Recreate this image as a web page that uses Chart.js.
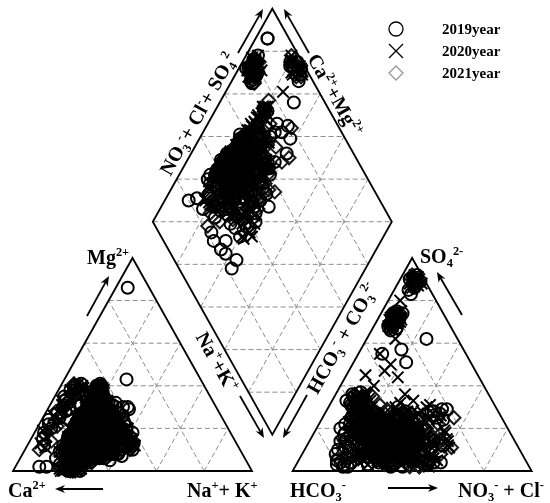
<!DOCTYPE html>
<html><head><meta charset="utf-8">
<script src="https://cdn.jsdelivr.net/npm/chart.js@4/dist/chart.umd.min.js"></script>
<style>html,body{margin:0;padding:0;background:#fff;}#wrap{width:550px;height:503px;}</style>
</head><body><div id="wrap"><canvas id="c" width="550" height="503"></canvas></div>
<script>
// ---- Data: each sample = [Mg%, Na+K%, SO4%, NO3+Cl%] (Ca = rest of cations, HCO3 = rest of anions)
const years = ['2019year', '2020year', '2021year'];
const samples2019 = [
[20,20,15,30],[22,18,18,28],[25,15,12,35],[18,25,20,25],[30,16,25,20],[15,30,10,40],[28,22,30,12],[12,35,8,45],[35,15,35,8],[38,15,22,18],
[40,15,33,10],[33,20,28,15],[26,26,16,22],[21,32,12,50],[17,38,5,55],[10,40,3,30],[6,35,6,20],[5,25,14,13],[8,18,20,10],[12,15,26,12],
[16,15,32,8],[22,16,36,7],[30,18,18,40],[24,20,28,45],[19,21,25,48],[14,22,14,52],[11,28,9,35],[9,33,17,38],[7,42,11,28],[13,44,4,18],
[20,36,8,25],[27,28,12,30],[32,24,22,26],[36,18,30,14],[39,17,27,22],[41,16,34,12],[34,17,19,32],[29,19,23,36],[23,18,16,42],[18,18,11,46],
[14,19,7,50],[10,20,3,55],[7,27,2,20],[4,30,5,16],[3,18,10,14],[6,15,15,18],[9,15,21,16],[15,16,27,20],[20,16,31,14],[26,16,35,12],
[31,16,13,28],[27,19,17,34],[23,23,21,30],[19,27,24,22],[16,31,18,24],[13,25,13,33],[17,21,9,37],[21,17,6,41],[24,17,10,24],[28,16,14,27],
[22,24,19,19],[18,19,23,17],[15,17,26,15],[12,19,16,26],[25,21,8,32],[29,17,11,36],[33,17,15,31],[37,17,20,29],[11,37,25,40],[8,40,28,44],
[5,38,29,48],[24,30,26,46],[20,29,24,51],[16,34,19,43],[13,29,12,57],[19,24,4,60],[23,20,2,45],[27,15,6,33],[31,13,9,26],[35,13,12,21],
[39,17,17,13],[36,19,31,9],[32,27,26,17],[26,33,21,23],[18,41,16,29],[14,40,13,37],[10,45,10,42],[7,33,7,25],[9,24,18,20],[11,16,22,13],
[21,15,29,11],[17,15,33,6],[25,16,37,10],[30,20,14,48],[22,19,20,39],
[21,23,17,29],[24,19,13,33],[27,21,21,26],[19,26,9,41],[16,22,24,18],[23,28,11,23],[29,23,16,21],[33,20,19,24],[26,18,23,28],[20,25,26,31],
[17,29,14,27],[14,27,19,30],[12,30,22,22],[18,33,17,19],[22,29,13,36],[25,24,10,40],[28,19,7,38],[31,22,12,33],[34,19,18,27],[30,24,24,23],
[24,27,28,20],[19,31,30,16],[15,34,26,14],[11,31,21,25],[9,27,17,31],[8,23,13,36],[10,21,8,42],[13,18,5,47],[17,20,3,39],[21,16,9,34],
[25,20,15,29],[22,22,20,24],[18,24,24,27],[15,25,18,33],[20,23,12,37],[24,23,8,41],[27,25,14,44],[23,27,19,40],[19,29,23,37],[16,27,27,33],
[13,23,30,29],[11,25,25,36],[9,29,20,41],[7,31,15,45],[6,27,10,50],[8,25,6,44],[11,22,4,38],[14,20,9,32],[17,17,14,26],[20,18,19,22],
[23,15,24,19],[26,16,28,16],[29,16,32,13],[32,16,27,18],[35,15,22,23],[37,14,17,26],[33,16,13,30],[30,16,9,35],[27,16,5,39],[24,16,11,30],
[21,16,16,25],[18,16,21,21],[16,17,25,24],[13,17,20,28],[11,17,15,32],[9,16,10,27],[12,18,7,22],[15,22,11,18],[19,21,15,15],[22,26,18,13],
[26,23,22,11],[29,25,26,14],[32,21,30,10],[28,27,20,17],[25,30,16,20],[21,27,12,24],[18,26,8,29],[14,29,4,34],[11,33,7,39],[9,36,11,35],
[12,39,15,31],[15,37,19,27],[19,34,23,25],[23,32,27,22],[26,30,24,27],[30,28,20,31],[27,31,17,36],[23,35,14,40],[19,38,10,44],[16,41,6,48],
[13,43,3,40],[17,39,5,33],[21,37,9,29],[8,35,13,26],[6,33,16,23],[5,29,19,20],[7,21,22,17],[10,17,25,14],[14,16,28,19],[18,16,24,33],
[22,17,18,38],[26,17,13,43],[30,17,8,46],[34,18,11,40],[36,17,15,35],[38,16,19,30],[40,17,23,24],[37,19,26,20],[34,21,29,16],[31,26,23,35],
[27,24,19,46],[24,26,15,50],[20,24,11,53],[17,25,15,47],[14,26,20,42],[12,28,24,38],[10,31,28,33],[8,28,23,29],[6,24,18,34],[9,19,13,39],
[1,22,88,7],[0,25,90,6],[2,20,87,8],[1,27,91,5],[0,23,92,6],[2,26,89,9],[1,21,90,4],[0,28,86,8],
[38,7,70,7],[33,5,72,8],[28,8,68,6],[40,6,74,5],[22,4,71,9],[36,9,69,8],[30,6,75,6],[25,7,67,10],
[41,8,72,6],[39,6,70,9],[37,9,73,5],[35,4,68,8],[32,7,71,7],[27,5,74,9],[24,3,69,6],[20,6,72,8],[18,4,67,10],[15,5,70,7],[12,7,73,6],[29,9,66,8],
[86,5,83,8],[38,5,85,6],[43,26,55,10],[30,31,62,25],[29,34,29,50],[30,33,27,48],[2,10,3,17],[2,13,2,22],
[12,44,4,22],[8,38,3,20],[20,35,8,14],[6,30,3,30],[5,28,2,40],[10,36,4,57],[24,22,57,17],[28,20,51,22]
];
const samples2020 = [
[21,19,14,31],[24,22,17,27],[19,17,12,34],[27,16,20,24],[16,24,9,38],[23,26,22,21],[30,18,27,16],[34,16,31,11],[38,16,35,9],[40,16,29,14],
[36,16,24,20],[32,22,19,29],[28,25,15,36],[25,29,11,42],[20,33,7,47],[17,36,4,52],[13,40,3,44],[10,43,6,36],[8,38,9,28],[6,32,13,22],
[4,27,18,15],[5,20,23,12],[9,15,28,10],[13,16,33,9],[18,17,36,13],[24,17,30,18],[29,17,26,23],[33,17,21,27],[37,17,16,31],[39,18,12,35],
[35,20,8,40],[31,24,5,45],[26,27,3,50],[22,31,2,56],[18,35,5,58],[14,37,8,54],[11,35,11,49],[9,30,14,44],[7,25,17,39],[5,17,20,33],
[8,17,25,28],[12,16,22,24],[16,15,19,20],[20,14,16,17],[23,16,13,14],[26,19,10,18],[30,21,7,22],[27,23,4,26],[23,24,9,29],[19,22,12,26],
[15,21,15,23],[12,23,18,19],[10,26,21,16],[13,29,24,21],[16,28,27,25],[20,27,23,32],[24,25,20,38],[18,30,16,42],[14,33,13,46],[11,38,10,31],
[15,42,7,27],[12,45,5,33],[20,38,3,38],[25,32,6,43],[29,27,9,48],[33,23,13,52],[28,18,17,47],[22,19,21,41],[17,19,25,37],[21,21,28,34],
[25,18,32,29],[31,16,34,15],[35,17,37,12],[33,19,28,40],[29,19,24,45],[26,19,31,42],[20,21,26,49],[16,20,18,55],[13,20,14,58],[9,22,11,60],
[7,35,6,40],[5,30,10,35],[4,24,3,30],[6,19,8,25],[23,18,19,30],
[22,20,15,28],[25,23,18,25],[20,18,11,33],[26,17,21,22],[17,25,10,36],[22,27,23,20],[29,19,26,17],[33,17,30,12],[37,16,34,10],[39,17,28,15],
[35,18,23,21],[31,23,18,28],[27,26,14,35],[24,28,10,41],[21,32,6,46],[18,35,5,50],[14,38,4,43],[11,41,7,37],[9,37,10,29],[7,33,14,23],
[5,28,17,16],[6,22,22,13],[10,17,27,11],[14,17,31,10],[19,17,35,12],[23,18,29,17],[28,18,25,22],[32,18,20,26],[36,17,17,30],[38,19,13,34],
[34,21,9,39],[30,23,6,44],[25,26,4,49],[21,30,3,54],[17,33,6,56],[13,36,9,52],[10,34,12,47],[8,29,15,42],[6,26,18,37],[4,21,21,32],
[7,18,24,27],[11,17,21,23],[15,16,18,19],[19,15,15,16],[22,17,12,15],[25,20,9,19],[29,22,6,23],[26,24,5,27],[22,25,8,30],[18,23,11,27],
[14,22,14,24],[11,24,17,20],[9,27,20,17],[12,28,23,22],[15,29,26,26],[19,28,22,31],[23,26,19,37],[17,31,15,41],[13,34,12,45],[10,37,9,32],
[14,41,6,28],[11,43,4,34],[19,37,4,37],[24,31,7,42],[28,26,10,47],[32,22,14,51],[27,19,18,46],[21,20,22,40],[16,20,24,36],[20,22,27,33],
[24,19,30,28],[30,17,33,16],[34,18,36,13],[32,20,27,39],[28,20,25,44],[25,20,30,41],[19,22,25,48],[15,21,19,54],[12,21,15,57],[8,23,12,59],
[21,21,18,27],[24,21,22,30],[18,21,20,26],[27,22,17,31],[23,23,13,34],[20,24,16,29],[16,23,19,32],[19,20,23,28],[25,25,21,24],[28,23,24,27],
[31,20,20,32],[22,28,24,35],[18,27,28,30],[14,30,22,35],[12,26,18,40],[15,24,13,43],[29,21,14,38],[33,20,17,35],[26,22,27,36],[17,28,8,34],
[0,24,89,7],[1,19,91,6],[2,23,88,5],[1,26,90,8],[0,21,87,9],[1,28,92,5],[2,24,86,7],[0,20,90,6],[1,25,88,10],[0,27,91,7],
[37,8,71,6],[41,7,70,8],[31,5,73,7],[27,6,69,9],[35,9,72,5],[20,5,68,8],[39,10,74,7],[24,8,70,10],[33,4,66,9],
[40,9,69,7],[38,5,72,9],[34,7,74,6],[30,8,67,8],[26,4,71,5],[22,7,70,9],[19,3,73,7],[16,6,68,6],[13,5,75,8],[11,8,71,10],
[25,18,40,14],[30,17,45,8],[18,22,47,15],[22,28,36,29],[15,30,33,34],[28,20,62,12],[33,19,55,9],[20,24,80,5],[26,21,44,22],[31,19,50,16]
];
const samples2021 = [
[22,21,16,28],[19,24,13,32],[25,18,19,25],[17,27,10,36],[28,20,22,22],[31,17,26,19],[35,16,30,14],[38,17,33,11],[40,15,36,8],[36,19,28,17],
[33,21,24,24],[29,24,20,30],[26,27,17,34],[23,30,14,38],[19,33,11,43],[16,37,8,47],[13,41,5,51],[10,44,3,55],[8,40,6,48],[6,36,9,41],
[4,31,12,35],[5,26,15,29],[7,22,18,24],[10,19,21,19],[13,17,24,15],[16,16,27,12],[20,17,30,10],[24,16,33,13],[27,18,35,16],[32,18,31,21],
[37,18,27,25],[40,17,23,30],[34,22,20,34],[30,25,17,38],[27,28,14,42],[24,31,11,46],[21,34,8,50],[18,37,5,54],[15,39,2,48],[12,37,4,42],
[9,34,7,37],[7,29,10,32],[5,23,13,27],[8,18,16,22],[11,18,19,17],[15,19,22,14],[18,20,25,20],[21,23,28,26],[25,22,27,32],[28,22,34,9],
[32,15,29,12],[35,18,25,16],[31,19,21,18],[27,20,18,21],[23,19,15,24],[20,20,12,27],[17,22,9,30],[14,25,6,33],[11,28,3,37],[9,31,5,40],
[12,32,8,43],[15,30,11,46],[19,28,14,50],[22,26,17,53],[26,24,20,44],[30,21,23,39],[33,19,26,35],[37,18,29,31],[20,30,24,34],[16,33,21,31],
[13,35,18,28],[10,38,15,25],[7,33,12,22],[6,28,9,19],[10,24,6,16],[14,22,3,23],[18,25,7,28],[24,28,10,31],[28,25,13,24],[22,18,16,36],
[21,22,17,27],[24,20,14,31],[18,23,20,24],[27,19,12,34],[30,18,25,20],[23,25,22,23],[20,27,18,29],[17,29,15,33],[14,31,11,38],[26,23,9,36],
[29,21,19,27],[32,19,23,22],[35,17,27,18],[38,16,31,13],[34,20,34,9],[30,22,29,15],[27,24,24,19],[24,26,19,25],[21,28,14,30],[18,30,10,35],
[15,33,7,40],[12,35,4,45],[9,38,6,50],[7,35,9,44],[5,30,12,39],[4,25,15,33],[6,20,18,28],[9,18,21,23],[12,17,24,18],[15,17,27,15],
[18,18,30,12],[22,18,33,10],[25,17,36,8],[28,17,32,13],[31,17,28,17],[34,17,24,22],[37,17,20,27],[39,18,16,32],[35,21,13,36],[31,24,10,40],
[28,26,7,44],[25,29,4,48],[22,32,2,52],[19,35,6,47],[16,38,9,42],[13,39,12,37],[10,41,15,32],[8,37,18,27],[11,33,21,22],[14,29,24,17],
[17,26,26,21],[20,24,23,26],[23,22,20,31],[26,20,16,36],[29,19,13,41],[25,21,10,46],[22,23,7,50],[19,25,4,55],[16,27,8,58],[13,28,12,54],
[10,30,16,50],[12,27,20,46],[15,25,24,41],[18,24,27,36],[21,25,24,40],[24,24,21,44],[27,23,18,48],[20,26,15,52],[17,31,17,44],[14,34,20,38],
[11,36,23,33],[9,32,26,29],[7,27,22,34],[5,24,19,38],[8,21,16,42],[11,20,13,46],[14,21,9,49],[17,22,6,45],[20,21,3,41],[23,20,5,37],
[26,22,8,33],[29,23,11,29],[32,22,15,25],[28,21,19,23],[25,19,22,28],[22,20,26,32],[19,22,29,25],[16,24,21,30],[13,26,17,35],[24,27,13,39],
[1,23,90,7],[0,26,88,6],[2,22,91,5],[1,19,89,8],[0,25,87,7],[1,28,90,6],[2,21,92,4],[0,24,88,9],
[36,6,72,6],[29,9,70,8],[40,8,68,7],[23,6,73,5],[34,5,71,9],[38,10,69,6],[26,7,74,8],
[41,5,70,8],[36,8,73,7],[31,6,69,6],[28,4,72,9],[21,8,68,7],[17,5,74,5],[14,9,70,9],[10,6,72,7],
[14,42,11,61],[18,34,15,54],[22,36,25,55],[25,20,69,8],[6,30,2,52],[16,40,12,56],[20,26,22,50]
];
const gridSteps = [20, 40, 60, 80];

// ---- Piper geometry (units: triangle side = 100)
const H = 50 * Math.sqrt(3);
const GAP = 17;
const AX = 100 + GAP;
const BX = 100 + GAP / 2, BY = (GAP / 2) * Math.sqrt(3);
function cationXY(mg, na) { return { x: na + mg / 2, y: mg * H / 100 }; }
function anionXY(so4, cl) { return { x: AX + cl + so4 / 2, y: so4 * H / 100 }; }
function diamondXY(n, a) { return { x: BX - 50 + 50 * n + 50 * a, y: BY + H - H * n + H * a }; }
function project(list) {
  const out = [];
  list.forEach(s => {
    out.push(cationXY(s[0], s[1]));
    out.push(anionXY(s[2], s[3]));
    out.push(diamondXY(s[1] / 100, (s[2] + s[3]) / 100));
  });
  return out;
}

const SERIF = '"Liberation Serif","Times New Roman",serif';

function drawRich(ctx, segs, x, y, size) {
  let cx = x;
  segs.forEach(([t, m]) => {
    const fs = m ? size * 0.62 : size;
    ctx.font = 'bold ' + fs + 'px ' + SERIF;
    const dy = m === 1 ? -size * 0.4 : (m === 2 ? size * 0.22 : 0);
    ctx.fillText(t, cx, y + dy);
    cx += ctx.measureText(t).width;
  });
  return cx - x;
}
function richWidth(ctx, segs, size) {
  let w = 0;
  segs.forEach(([t, m]) => {
    ctx.font = 'bold ' + (m ? size * 0.62 : size) + 'px ' + SERIF;
    w += ctx.measureText(t).width;
  });
  return w;
}
function arrow(ctx, x1, y1, x2, y2) {
  const ang = Math.atan2(y2 - y1, x2 - x1), L = 10, W = 4;
  ctx.beginPath(); ctx.moveTo(x1, y1);
  ctx.lineTo(x2 - Math.cos(ang) * L * 0.7, y2 - Math.sin(ang) * L * 0.7); ctx.stroke();
  ctx.beginPath(); ctx.moveTo(x2, y2);
  ctx.lineTo(x2 - Math.cos(ang) * L + Math.sin(ang) * W, y2 - Math.sin(ang) * L - Math.cos(ang) * W);
  ctx.lineTo(x2 - Math.cos(ang) * L * 0.7, y2 - Math.sin(ang) * L * 0.7);
  ctx.lineTo(x2 - Math.cos(ang) * L - Math.sin(ang) * W, y2 - Math.sin(ang) * L + Math.cos(ang) * W);
  ctx.closePath(); ctx.fill();
}

const framePlugin = {
  id: 'piperFrame',
  beforeDatasetsDraw(chart) {
    const ctx = chart.ctx, xs = chart.scales.x, ys = chart.scales.y;
    const P = p => [xs.getPixelForValue(p.x), ys.getPixelForValue(p.y)];
    const seg = (a, b) => { ctx.beginPath(); ctx.moveTo(...P(a)); ctx.lineTo(...P(b)); ctx.stroke(); };
    ctx.save();
    ctx.strokeStyle = '#8c8c8c'; ctx.lineWidth = 1; ctx.setLineDash([5, 3]);
    gridSteps.forEach(f => {
      seg(cationXY(f, 0), cationXY(f, 100 - f));
      seg(cationXY(0, f), cationXY(100 - f, f));
      seg(cationXY(0, 100 - f), cationXY(100 - f, 0));
      seg(anionXY(f, 0), anionXY(f, 100 - f));
      seg(anionXY(0, f), anionXY(100 - f, f));
      seg(anionXY(0, 100 - f), anionXY(100 - f, 0));
      seg(diamondXY(f / 100, 0), diamondXY(f / 100, 1));
      seg(diamondXY(0, f / 100), diamondXY(1, f / 100));
    });
    [-80, -60, -40, -20, 0, 20, 40, 60, 80].forEach(d => {
      const dd = d / 100;
      const n0 = Math.max(0, dd), n1 = Math.min(1, 1 + dd);
      seg(diamondXY(n0, n0 - dd), diamondXY(n1, n1 - dd));
    });
    ctx.setLineDash([]); ctx.strokeStyle = '#000'; ctx.lineWidth = 1.8; ctx.lineJoin = 'miter';
    const poly = pts => { ctx.beginPath(); pts.forEach((p, i) => { const q = P(p); i ? ctx.lineTo(...q) : ctx.moveTo(...q); }); ctx.closePath(); ctx.stroke(); };
    poly([cationXY(0, 0), cationXY(0, 100), cationXY(100, 0)]);
    poly([anionXY(0, 0), anionXY(0, 100), anionXY(100, 0)]);
    poly([diamondXY(0, 0), diamondXY(1, 0), diamondXY(1, 1), diamondXY(0, 1)]);
    ctx.restore();
  }
};

const labelPlugin = {
  id: 'piperLabels',
  afterDatasetsDraw(chart) {
    const ctx = chart.ctx;
    ctx.save();
    ctx.fillStyle = '#000'; ctx.strokeStyle = '#000'; ctx.lineWidth = 1.8;
    ctx.textBaseline = 'alphabetic'; ctx.textAlign = 'left';
    arrow(ctx, 87, 316, 109, 276);
    arrow(ctx, 103, 489, 55, 489);
    arrow(ctx, 462, 315, 437, 272);
    arrow(ctx, 388, 488, 438, 488);
    arrow(ctx, 238, 53, 263, 9);
    arrow(ctx, 309, 53, 284, 9);
    arrow(ctx, 240, 396, 264, 438);
    arrow(ctx, 307, 395, 283, 438);
    const S = 20;
    drawRich(ctx, [['Mg', 0], ['2+', 1]], 87, 264, S);
    drawRich(ctx, [['SO', 0], ['4', 2], ['2-', 1]], 420, 263, S);
    drawRich(ctx, [['Ca', 0], ['2+', 1]], 8, 497, S);
    drawRich(ctx, [['Na', 0], ['+', 1], ['+ K', 0], ['+', 1]], 187, 497, S);
    drawRich(ctx, [['HCO', 0], ['3', 2], ['-', 1]], 290, 497, S);
    drawRich(ctx, [['NO', 0], ['3', 2], ['-', 1], [' + Cl', 0], ['-', 1]], 458, 497, S);
    const ang = Math.atan2(214, 120);
    const rot = (segs, cx, cy, a) => {
      ctx.save(); ctx.translate(cx, cy); ctx.rotate(a);
      const w = richWidth(ctx, segs, S);
      drawRich(ctx, segs, -w / 2, S * 0.33, S);
      ctx.restore();
    };
    rot([['NO', 0], ['3', 2], ['-', 1], ['+ Cl', 0], ['-', 1], ['+ SO', 0], ['4', 2], ['2', 1]], 198, 114, -ang);
    rot([['Ca', 0], ['2+', 1], ['+Mg', 0], ['2+', 1]], 335, 95, ang);
    rot([['Na', 0], ['+', 1], ['+K', 0], ['+', 1]], 217, 362, ang);
    rot([['HCO', 0], ['3', 2], ['-', 1], [' + CO', 0], ['3', 2], ['2-', 1]], 342, 338, -ang);
    const lx = 396, ly = [29, 51, 73];
    ctx.lineWidth = 1.3;
    ctx.strokeStyle = '#000';
    ctx.beginPath(); ctx.arc(lx, ly[0], 7, 0, Math.PI * 2); ctx.stroke();
    ctx.beginPath(); ctx.moveTo(lx - 7, ly[1] - 7); ctx.lineTo(lx + 7, ly[1] + 7);
    ctx.moveTo(lx + 7, ly[1] - 7); ctx.lineTo(lx - 7, ly[1] + 7); ctx.stroke();
    ctx.strokeStyle = '#999';
    ctx.beginPath(); ctx.moveTo(lx - 7, ly[2]); ctx.lineTo(lx, ly[2] - 7); ctx.lineTo(lx + 7, ly[2]); ctx.lineTo(lx, ly[2] + 7); ctx.closePath(); ctx.stroke();
    ctx.font = 'bold 15px ' + SERIF; ctx.textBaseline = 'middle';
    years.forEach((y, i) => ctx.fillText(y, 442, ly[i] + 1));
    ctx.restore();
  }
};

const styles = [
  { pointStyle: 'circle', radius: 6, color: '#000' },
  { pointStyle: 'crossRot', radius: 8, color: '#000' },
  { pointStyle: 'rectRot', radius: 6.5, color: '#1a1a1a' }
];
const allSamples = [samples2019, samples2020, samples2021];

new Chart(document.getElementById('c'), {
  type: 'scatter',
  data: {
    datasets: allSamples.map((s, i) => ({
      label: years[i],
      data: project(s),
      pointStyle: styles[i].pointStyle,
      pointRadius: styles[i].radius,
      borderColor: styles[i].color,
      backgroundColor: 'rgba(0,0,0,0)',
      borderWidth: 2,
      showLine: false,
      clip: false
    }))
  },
  options: {
    responsive: false,
    animation: false,
    events: [],
    layout: { padding: 0, autoPadding: false },
    scales: {
      x: { type: 'linear', min: -13 / 2.39, max: 537 / 2.39, display: false },
      y: { type: 'linear', min: -32 / 2.46, max: 471 / 2.46, display: false }
    },
    plugins: { legend: { display: false }, tooltip: { enabled: false }, title: { display: false } }
  },
  plugins: [framePlugin, labelPlugin]
});
</script></body></html>
